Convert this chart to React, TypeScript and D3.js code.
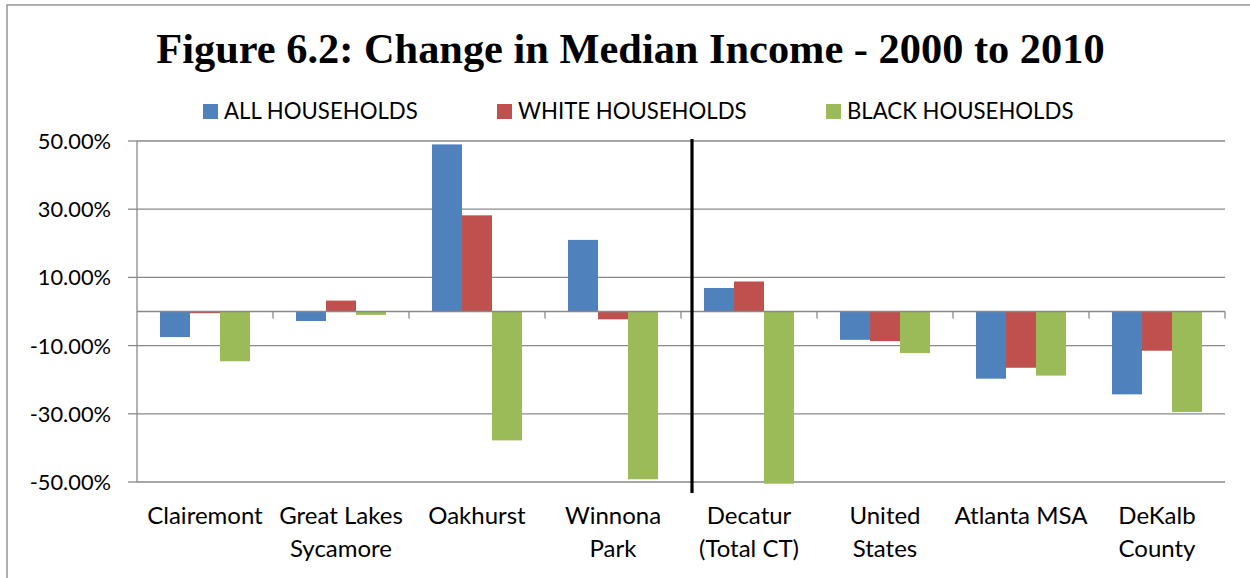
import React from "react";
import * as d3 from "d3";

const categories = [
  "Clairemont",
  "Great Lakes Sycamore",
  "Oakhurst",
  "Winnona Park",
  "Decatur (Total CT)",
  "United States",
  "Atlanta MSA",
  "DeKalb County",
];
const categoryLines = [
  ["Clairemont"],
  ["Great Lakes", "Sycamore"],
  ["Oakhurst"],
  ["Winnona", "Park"],
  ["Decatur", "(Total CT)"],
  ["United", "States"],
  ["Atlanta MSA"],
  ["DeKalb", "County"],
];
const seriesNames = ["ALL HOUSEHOLDS", "WHITE HOUSEHOLDS", "BLACK HOUSEHOLDS"];
const seriesColors = ["#4F81BD", "#C0504D", "#9BBB59"];
const allHouseholds = [-0.075, -0.028, 0.49, 0.21, 0.069, -0.083, -0.197, -0.243];
const whiteHouseholds = [-0.005, 0.032, 0.282, -0.023, 0.088, -0.087, -0.165, -0.115];
const blackHouseholds = [-0.146, -0.01, -0.378, -0.492, -0.505, -0.122, -0.188, -0.295];
const yTickValues = [0.5, 0.3, 0.1, -0.1, -0.3, -0.5];
const title = "Figure 6.2: Change in Median Income - 2000 to 2010";

const W = 1250;
const H = 578;
const plotLeft = 137;
const plotRight = 1225;
const plotTop = 141;
const plotBottom = 482;

const fmt = d3
  .formatLocale({ decimal: ".", thousands: ",", grouping: [3], currency: ["$", ""], minus: "-" })
  .format(".2%");

export default function App() {
  const seriesValues = [allHouseholds, whiteHouseholds, blackHouseholds];
  const x0 = d3.scaleBand<string>().domain(categories).range([plotLeft, plotRight]).padding(0);
  const x1 = d3
    .scaleBand<string>()
    .domain(seriesNames)
    .range([0, x0.bandwidth()])
    .paddingInner(0)
    .paddingOuter(0.767);
  const y = d3.scaleLinear().domain([-0.5, 0.5]).range([plotBottom, plotTop]);
  const y0 = y(0);
  const grid = "#898989";
  const font = "Lato, 'Open Sans', sans-serif";
  const legendX = [203, 497, 826];
  const dividerX = (x0("Decatur (Total CT)") as number) + 11;

  return (
    <svg
      width={W}
      height={H}
      style={{ position: "absolute", left: 0, top: 0, background: "#fff" }}
    >
      <rect x={0} y={0} width={W} height={H} fill="#fff" />
      <rect x={7} y={5} width={W + 20} height={H + 20} fill="none" stroke="#868686" strokeWidth={1.3} />
      <text
        x={630.5}
        y={63}
        textAnchor="middle"
        fontFamily="'Liberation Serif', 'Times New Roman', serif"
        fontWeight="bold"
        fontSize={42.4}
        fill="#000"
      >
        {title}
      </text>
      {seriesNames.map((s, i) => (
        <g key={s}>
          <rect x={legendX[i]} y={104} width={15} height={15} fill={seriesColors[i]} />
          <text x={legendX[i] + 21} y={118.5} fontFamily={font} fontSize={22.2} fill="#000">
            {s}
          </text>
        </g>
      ))}
      {yTickValues.map((v) => (
        <g key={v}>
          <line x1={plotLeft} x2={plotRight} y1={y(v)} y2={y(v)} stroke={grid} strokeWidth={1.3} />
          <line x1={plotLeft - 9} x2={plotLeft} y1={y(v)} y2={y(v)} stroke={grid} strokeWidth={1.3} />
          <text
            x={111}
            y={y(v) + 8}
            textAnchor="end"
            fontFamily={font}
            fontSize={21.8}
            fill="#000"
          >
            {fmt(v)}
          </text>
        </g>
      ))}
      <line x1={plotLeft} x2={plotLeft} y1={plotTop} y2={plotBottom} stroke={grid} strokeWidth={1.3} />
      {categories.map((c, i) => (
        <g key={c}>
          {seriesValues.map((vals, si) => {
            const v = vals[i];
            const bx = (x0(c) as number) + (x1(seriesNames[si]) as number);
            return (
              <rect
                key={si}
                x={bx}
                y={Math.min(y(v), y0)}
                width={x1.bandwidth()}
                height={Math.abs(y(v) - y0)}
                fill={seriesColors[si]}
              />
            );
          })}
        </g>
      ))}
      <line x1={plotLeft} x2={plotRight} y1={y0} y2={y0} stroke={grid} strokeWidth={1.3} />
      {categories.map((c) => (
        <line
          key={"t" + c}
          x1={(x0(c) as number) + x0.bandwidth()}
          x2={(x0(c) as number) + x0.bandwidth()}
          y1={y0}
          y2={y0 + 7}
          stroke={grid}
          strokeWidth={1.3}
        />
      ))}
      <line x1={dividerX} x2={dividerX} y1={139} y2={493} stroke="#000" strokeWidth={3.2} />
      {categories.map((c, i) => (
        <text
          key={"l" + c}
          x={(x0(c) as number) + x0.bandwidth() / 2}
          y={524}
          textAnchor="middle"
          fontFamily={font}
          fontSize={24}
          fill="#000"
        >
          {categoryLines[i].map((ln, k) => (
            <tspan key={k} x={(x0(c) as number) + x0.bandwidth() / 2} dy={k === 0 ? 0 : 32.5}>
              {ln}
            </tspan>
          ))}
        </text>
      ))}
    </svg>
  );
}
